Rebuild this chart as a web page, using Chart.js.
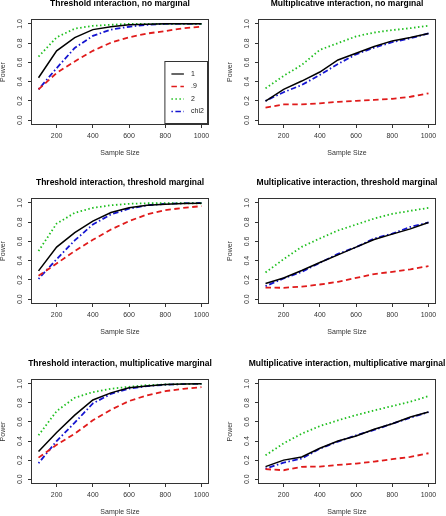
<!DOCTYPE html>
<html>
<head>
<meta charset="utf-8">
<script src="https://cdn.jsdelivr.net/npm/chart.js@4.4.0/dist/chart.umd.min.js"></script>
<style>
  html, body { margin: 0; padding: 0; background: #fff; }
  #wrap { position: relative; width: 446px; height: 516px; overflow: hidden; }
  canvas { position: absolute; }
</style>
</head>
<body>
<div id="wrap"></div>
<script>
// x values, ticks and series names
const sampleSizes = [100, 200, 300, 400, 500, 600, 700, 800, 900, 1000];
const xTicks = [200, 400, 600, 800, 1000];
const yTicks = [0, 0.2, 0.4, 0.6, 0.8, 1.0];
const seriesLabels = ['1', '.9', '2', 'chi2'];
const panelTitles = [
  'Threshold interaction, no marginal',
  'Multiplicative interaction, no marginal',
  'Threshold interaction, threshold marginal',
  'Multiplicative interaction, threshold marginal',
  'Threshold interaction, multiplicative marginal',
  'Multiplicative interaction, multiplicative marginal'
];

// power values, one array per panel and series
const thrNoOne  = [0.44, 0.72, 0.857, 0.94, 0.97, 0.99, 0.995, 1.0, 1.0, 1.0];
const thrNoNine = [0.32, 0.49, 0.61, 0.72, 0.805, 0.86, 0.90, 0.925, 0.955, 0.97];
const thrNoTwo  = [0.66, 0.86, 0.95, 0.98, 0.99, 1.0, 1.0, 1.0, 1.0, 1.0];
const thrNoChi2 = [0.32, 0.54, 0.75, 0.875, 0.94, 0.97, 0.99, 1.0, 1.0, 1.0];

const mulNoOne  = [0.198, 0.32, 0.406, 0.50, 0.625, 0.694, 0.764, 0.823, 0.858, 0.90];
const mulNoNine = [0.13, 0.163, 0.163, 0.175, 0.19, 0.20, 0.21, 0.222, 0.243, 0.278];
const mulNoTwo  = [0.33, 0.46, 0.573, 0.73, 0.80, 0.87, 0.91, 0.935, 0.955, 0.98];
const mulNoChi2 = [0.20, 0.29, 0.365, 0.47, 0.583, 0.684, 0.753, 0.81, 0.85, 0.90];

const thrThrOne  = [0.294, 0.54, 0.69, 0.81, 0.90, 0.948, 0.975, 0.985, 0.993, 0.996];
const thrThrNine = [0.242, 0.37, 0.50, 0.616, 0.723, 0.81, 0.88, 0.924, 0.948, 0.966];
const thrThrTwo  = [0.50, 0.785, 0.896, 0.948, 0.975, 0.99, 0.996, 0.996, 0.996, 0.996];
const thrThrChi2 = [0.21, 0.415, 0.61, 0.775, 0.88, 0.94, 0.975, 0.99, 0.996, 1.0];

const mulThrOne  = [0.163, 0.22, 0.297, 0.38, 0.46, 0.54, 0.62, 0.675, 0.73, 0.796];
const mulThrNine = [0.12, 0.118, 0.13, 0.152, 0.18, 0.22, 0.26, 0.284, 0.31, 0.343];
const mulThrTwo  = [0.277, 0.415, 0.543, 0.63, 0.713, 0.775, 0.837, 0.886, 0.917, 0.948];
const mulThrChi2 = [0.135, 0.215, 0.284, 0.377, 0.47, 0.54, 0.63, 0.68, 0.75, 0.796];

const thrMulOne  = [0.29, 0.49, 0.672, 0.83, 0.905, 0.958, 0.976, 0.993, 0.997, 1.0];
const thrMulNine = [0.226, 0.36, 0.477, 0.617, 0.728, 0.819, 0.88, 0.923, 0.948, 0.965];
const thrMulTwo  = [0.46, 0.714, 0.854, 0.913, 0.948, 0.969, 0.986, 0.993, 0.997, 1.0];
const thrMulChi2 = [0.167, 0.40, 0.592, 0.794, 0.895, 0.95, 0.976, 0.99, 0.997, 1.0];

const mulMulOne  = [0.132, 0.20, 0.233, 0.324, 0.40, 0.453, 0.523, 0.582, 0.652, 0.704];
const mulMulNine = [0.105, 0.094, 0.13, 0.132, 0.15, 0.164, 0.185, 0.21, 0.233, 0.272];
const mulMulTwo  = [0.25, 0.376, 0.477, 0.557, 0.617, 0.672, 0.721, 0.767, 0.812, 0.871];
const mulMulChi2 = [0.11, 0.174, 0.216, 0.32, 0.394, 0.46, 0.516, 0.582, 0.645, 0.704];

const panelSeries = [
  [thrNoOne, thrNoNine, thrNoTwo, thrNoChi2],
  [mulNoOne, mulNoNine, mulNoTwo, mulNoChi2],
  [thrThrOne, thrThrNine, thrThrTwo, thrThrChi2],
  [mulThrOne, mulThrNine, mulThrTwo, mulThrChi2],
  [thrMulOne, thrMulNine, thrMulTwo, thrMulChi2],
  [mulMulOne, mulMulNine, mulMulTwo, mulMulChi2]
];

// line styles like R's lty 1..4
const lineStyles = [
  { color: '#000000', width: 1.5, dash: [] },
  { color: '#e01b1b', width: 1.8, dash: [5.5, 3.5] },
  { color: '#1fbf1f', width: 1.8, dash: [1.5, 2.5] },
  { color: '#1515d0', width: 1.8, dash: [1.5, 2.5, 5.5, 2.5] }
];

const FONT = '"Liberation Sans", Arial, sans-serif';
const rowTops = [0, 172, 344];
const boxTops = [20, 27, 36];
const boxBottoms = [124, 131, 139];
const colLefts = [0, 227];
const colWidths = [223, 219];
const CANVAS_H = 172;
const BOX_LEFT = 32, BOX_RIGHT = 208;

// box, rotated y labels, x labels, main title and legend drawn R-style
const rStyle = {
  id: 'rStyle',
  afterDraw(chart, args, opts) {
    const { ctx, chartArea: ca, scales } = chart;
    ctx.save();
    ctx.strokeStyle = '#333';
    ctx.lineWidth = 1;
    ctx.setLineDash([]);
    ctx.strokeRect(ca.left - 0.5, ca.top - 0.5, ca.right - ca.left + 1, ca.bottom - ca.top + 1);

    ctx.fillStyle = '#333';
    ctx.font = '7px ' + FONT;
    ctx.textAlign = 'center';
    ctx.textBaseline = 'middle';
    yTicks.forEach(v => {
      const py = scales.y.getPixelForValue(v);
      ctx.save();
      ctx.translate(ca.left - 12.3, py);
      ctx.rotate(-Math.PI / 2);
      ctx.fillText(v.toFixed(1), 0, 0);
      ctx.restore();
    });
    xTicks.forEach(v => {
      ctx.fillText(String(v), scales.x.getPixelForValue(v), ca.bottom + 12.5);
    });

    ctx.fillStyle = '#000';
    ctx.font = 'bold 8.5px ' + FONT;
    ctx.fillText(opts.title, (ca.left + ca.right) / 2, ca.top - 16.5);

    if (opts.legend) {
      const w = 42.6, h = 62;
      const lx = ca.right - w, ly = ca.bottom - h;
      ctx.strokeStyle = '#333';
      ctx.lineWidth = 1;
      ctx.strokeRect(lx - 0.5, ly - 0.5, w, h);
      ctx.font = '7px ' + FONT;
      ctx.textAlign = 'left';
      chart.data.datasets.forEach((ds, i) => {
        const ey = ly + 12 + i * 12.5;
        ctx.save();
        ctx.strokeStyle = ds.borderColor;
        ctx.lineWidth = ds.borderWidth * 0.8;
        ctx.setLineDash(ds.borderDash);
        ctx.beginPath();
        ctx.moveTo(lx + 6, ey);
        ctx.lineTo(lx + 18.5, ey);
        ctx.stroke();
        ctx.restore();
        ctx.fillStyle = '#222';
        ctx.fillText(ds.label, lx + 25.6, ey);
      });
    }
    ctx.restore();
  }
};

const wrap = document.getElementById('wrap');

panelSeries.forEach((series, p) => {
  const row = Math.floor(p / 2), col = p % 2;
  const W = colWidths[col];
  const canvas = document.createElement('canvas');
  canvas.width = W;
  canvas.height = CANVAS_H;
  canvas.style.left = colLefts[col] + 'px';
  canvas.style.top = rowTops[row] + 'px';
  wrap.appendChild(canvas);

  const boxTop = boxTops[row], boxBottom = boxBottoms[row];

  new Chart(canvas, {
    type: 'line',
    data: {
      datasets: series.map((vals, i) => ({
        label: seriesLabels[i],
        data: sampleSizes.map((x, k) => ({ x, y: vals[k] })),
        borderColor: lineStyles[i].color,
        borderWidth: lineStyles[i].width,
        borderDash: lineStyles[i].dash,
        pointRadius: 0,
        tension: 0,
        fill: false
      }))
    },
    options: {
      responsive: false,
      animation: false,
      events: [],
      layout: { padding: { top: boxTop, right: W - BOX_RIGHT, left: 0, bottom: 0 } },
      plugins: {
        legend: { display: false },
        tooltip: { enabled: false },
        rStyle: { title: panelTitles[p], legend: p === 0 }
      },
      scales: {
        x: {
          type: 'linear',
          min: 64,
          max: 1036,
          afterBuildTicks: s => { s.ticks = xTicks.map(v => ({ value: v })); },
          afterFit: s => { s.height = CANVAS_H - boxBottom; },
          grid: { drawOnChartArea: false, drawTicks: true, tickLength: 4, color: '#333', lineWidth: 1 },
          border: { display: false },
          ticks: { display: false },
          title: {
            display: true,
            text: 'Sample Size',
            color: '#333',
            font: { family: FONT, size: 7 },
            padding: { top: 0, bottom: CANVAS_H - boxBottom - 29.5 - 4.2 }
          }
        },
        y: {
          type: 'linear',
          min: -0.04,
          max: 1.04,
          afterBuildTicks: s => { s.ticks = yTicks.map(v => ({ value: v })); },
          afterFit: s => { s.width = BOX_LEFT; },
          grid: { drawOnChartArea: false, drawTicks: true, tickLength: 4, color: '#333', lineWidth: 1 },
          border: { display: false },
          ticks: { display: false },
          title: {
            display: true,
            text: 'Power',
            color: '#333',
            font: { family: FONT, size: 7 },
            padding: { top: -0.8, bottom: 0 }
          }
        }
      }
    },
    plugins: [rStyle]
  });
});
</script>
</body>
</html>
